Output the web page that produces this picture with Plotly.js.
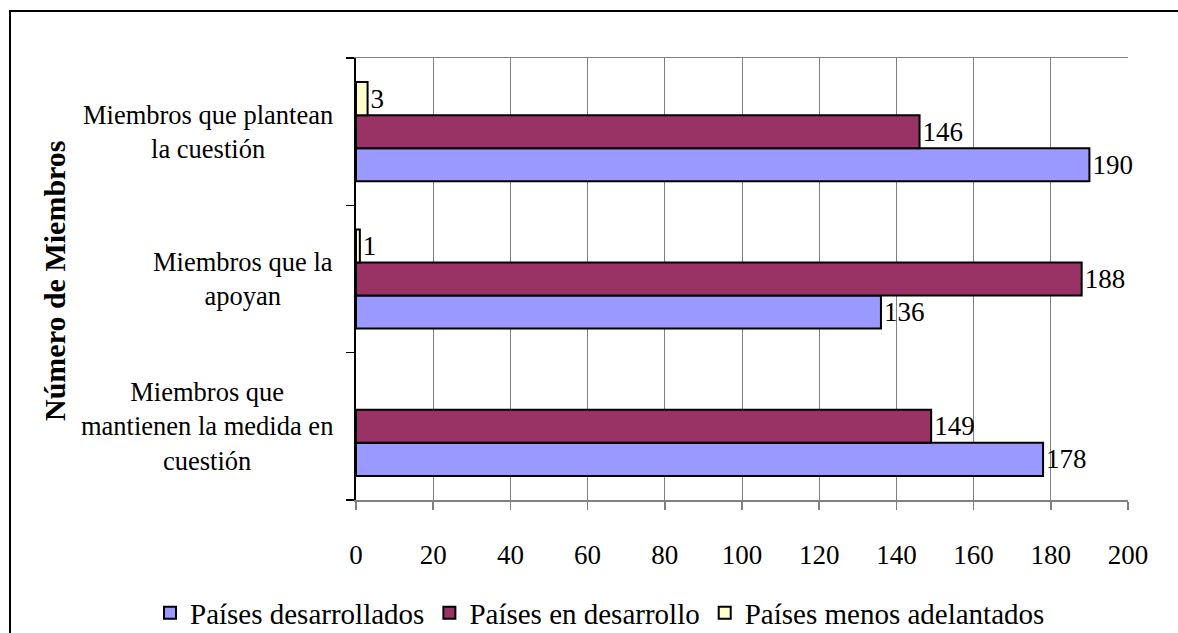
<!DOCTYPE html>
<html>
<head>
<meta charset="utf-8">
<script src="https://cdn.plot.ly/plotly-3.0.1.min.js"></script>
<style>
html,body{margin:0;padding:0;background:#fff;}
#chart{width:1178px;height:633px;}
</style>
</head>
<body>
<div id="chart"></div>
<script>
// Categories listed bottom to top (Plotly category axes start at the bottom)
const categories = [
  "Miembros que<br>mantienen la medida en<br>cuestión",
  "Miembros que la<br>apoyan",
  "Miembros que plantean<br>la cuestión"
];
const seriesNames = ["Países desarrollados", "Países en desarrollo", "Países menos adelantados"];
const desarrollados = [178, 136, 190];
const enDesarrollo = [149, 188, 146];
const menosAdelantados = [null, 1, 3];
const xTicks = [0, 20, 40, 60, 80, 100, 120, 140, 160, 180, 200];
const yTitle = "Número de Miembros";

const colors = ["#9999FF", "#993366", "#FFFFCC"];
const FONT = "'Liberation Serif', 'Times New Roman', serif";
const seriesValues = [desarrollados, enDesarrollo, menosAdelantados];

const traces = seriesValues.map((vals, i) => ({
  type: "bar",
  orientation: "h",
  name: seriesNames[i],
  y: categories,
  x: vals,
  text: vals.map(v => (v === null ? "" : String(v))),
  textposition: "outside",
  constraintext: "none",
  cliponaxis: false,
  textfont: {family: FONT, size: 27, color: "#000"},
  marker: {color: colors[i], line: {color: "#000", width: 2}},
  hoverinfo: "x+name"
}));

const L = 356, R = 1128, T = 58, B = 500;
const W = R - L, H = B - T;
const px = x => (x - L) / W;
const py = y => (B - y) / H;

const annotations = categories.map(c => ({
  xref: "paper", yref: "y",
  x: px(335), y: c,
  xanchor: "right", yanchor: "middle",
  align: "center",
  text: c,
  showarrow: false,
  font: {family: FONT, size: 26.5, color: "#000"}
}));
annotations.push({
  xref: "paper", yref: "paper",
  x: px(54), y: py(281),
  xanchor: "center", yanchor: "middle",
  textangle: -90,
  text: "<b>" + yTitle + "</b>",
  showarrow: false,
  font: {family: FONT, size: 30, color: "#000"}
});

const layout = {
  width: 1178, height: 633,
  font: {family: FONT, color: "#000"},
  margin: {l: L, r: 1178 - R, t: T, b: 633 - B, pad: 0, autoexpand: false},
  paper_bgcolor: "#fff",
  plot_bgcolor: "#fff",
  barmode: "group",
  bargap: 0.327,
  bargroupgap: 0,
  showlegend: true,
  legend: {
    orientation: "h",
    x: px(150), y: py(613),
    xanchor: "left", yanchor: "middle",
    traceorder: "normal",
    itemwidth: 30,
    font: {family: FONT, size: 29, color: "#000"},
    bgcolor: "rgba(0,0,0,0)"
  },
  xaxis: {
    range: [0, 200],
    tickvals: xTicks,
    ticktext: xTicks.map(String),
    ticks: "outside",
    ticklen: 8,
    tickwidth: 1.5,
    tickcolor: "#808080",
    ticklabelstandoff: 22,
    showline: true,
    linecolor: "#808080",
    linewidth: 1.5,
    mirror: true,
    showgrid: true,
    gridcolor: "#808080",
    gridwidth: 1,
    zeroline: false,
    tickfont: {family: FONT, size: 27, color: "#000"},
    fixedrange: true
  },
  yaxis: {
    type: "category",
    categoryorder: "array",
    categoryarray: categories,
    showticklabels: false,
    ticks: "outside",
    tickson: "boundaries",
    ticklen: 8,
    tickwidth: 1.5,
    tickcolor: "#000",
    showline: true,
    linecolor: "#000",
    linewidth: 2,
    showgrid: false,
    zeroline: false,
    fixedrange: true
  },
  annotations: annotations,
  shapes: [{
    type: "rect",
    xref: "paper", yref: "paper",
    x0: px(10), x1: px(1200),
    y0: py(11), y1: py(700),
    line: {color: "#000", width: 2},
    fillcolor: "rgba(0,0,0,0)",
    layer: "below"
  }]
};

Plotly.newPlot("chart", traces, layout, {displayModeBar: false, staticPlot: true});
</script>
</body>
</html>
